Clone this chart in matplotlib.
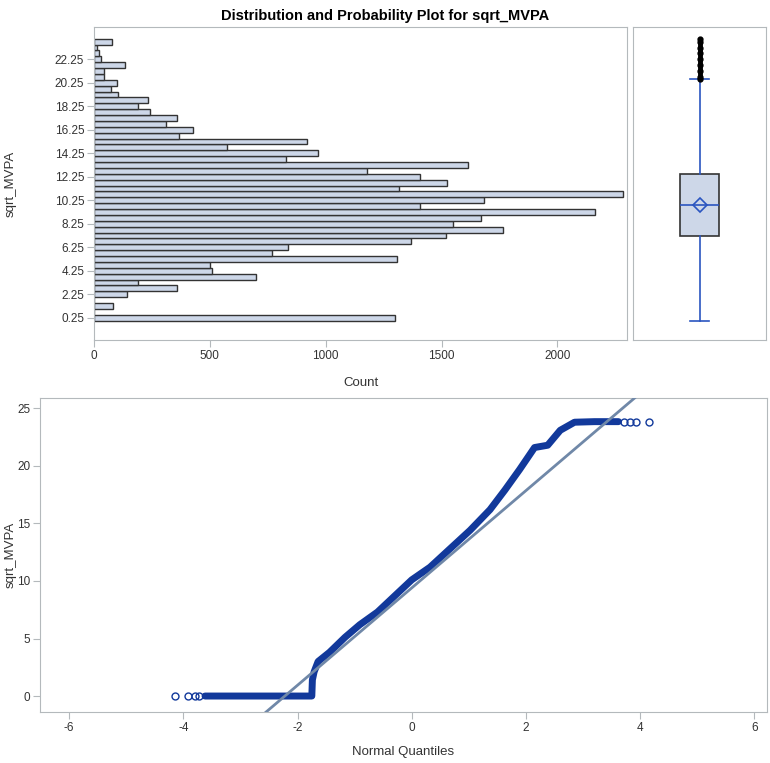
import matplotlib.pyplot as plt

plt.rcParams['font.family'] = ['Liberation Sans', 'DejaVu Sans']
plt.rcParams['axes.unicode_minus'] = False

# histogram bins (midpoints) and counts
bin_mid = [0.25 + 0.5 * k for k in range(48)]
counts = [1297, 0, 81, 0, 141, 356, 189, 701, 507, 500,
          1308, 770, 835, 1366, 1517, 1765, 1550, 1668, 2163, 1405,
          1684, 2281, 1314, 1523, 1405, 1177, 1613, 830, 966, 574,
          921, 367, 426, 312, 356, 242, 189, 232, 102, 72,
          98, 42, 42, 135, 29, 23, 12, 76]
ytick_vals = [0.25 + 2 * i for i in range(12)]

# box plot stats
box_q1, box_med, box_q3 = 7.17, 9.83, 12.49
box_mean = 9.83
whisk_lo, whisk_hi = 0.0, 20.57
outliers = [20.6, 20.75, 21.25, 21.75, 22.25, 22.75, 23.25, 23.75, 23.95]

# normal Q-Q curve
qq_x = [-3.62, -3.2, -2.8, -2.4, -2.0, -1.75, -1.74, -1.71, -1.64, -1.44, -1.17,
        -0.91, -0.6, -0.3, 0.0, 0.32, 0.67, 1.02, 1.37, 1.63, 1.89, 2.15,
        2.38, 2.6, 2.85, 3.2, 3.62]
qq_y = [0.0, 0.0, 0.0, 0.0, 0.0, 0.0, 1.4, 2.1, 3.0, 3.8, 5.1,
        6.2, 7.3, 8.7, 10.1, 11.2, 12.8, 14.4, 16.2, 17.9, 19.7, 21.6,
        21.8, 23.1, 23.8, 23.85, 23.85]
tail_x = [-4.15, -3.92, -3.8, -3.72, 3.72, 3.82, 3.92, 4.15]
tail_y = [0.0, 0.0, 0.0, 0.0, 23.85, 23.85, 23.85, 23.85]
ref_mu, ref_sigma = 9.4, 4.23

bar_fill = '#cdd7e8'
frame = '#b4b9bc'
blue = '#2a55c0'
navy = '#12399b'
txt = '#333333'

fig = plt.figure(figsize=(7.7, 7.63), dpi=100)
fig.text(0.5, 0.988, 'Distribution and Probability Plot for sqrt_MVPA',
         ha='center', va='top', fontsize=10.5, fontweight='bold')

def style(ax):
    for s in ax.spines.values():
        s.set_color(frame)
    ax.tick_params(colors=frame, labelcolor=txt, labelsize=8.5, length=5, pad=2)

# histogram
ax1 = fig.add_axes([0.1221, 0.5544, 0.6922, 0.4102])
ax1.barh(bin_mid, counts, height=0.5, color=bar_fill, edgecolor='#333333', linewidth=1)
ax1.set_xlim(0, 2300)
ax1.set_ylim(-1.65, 25)
ax1.set_yticks(ytick_vals)
ax1.set_yticklabels([f'{v:.2f}' for v in ytick_vals])
ax1.set_xticks([0, 500, 1000, 1500, 2000])
ax1.set_xlabel('Count', fontsize=9.5, color=txt, labelpad=11)
ax1.set_ylabel('sqrt_MVPA', fontsize=9.5, color=txt)
ax1.yaxis.set_label_coords(-0.1445, 0.5)
style(ax1)

# box plot
ax2 = fig.add_axes([0.8221, 0.5544, 0.1727, 0.4102], sharey=ax1)
ax2.plot([0.5] * len(outliers), outliers, color='black', lw=3.5,
         solid_capstyle='round', zorder=1)
stats = [dict(med=box_med, q1=box_q1, q3=box_q3, whislo=whisk_lo, whishi=whisk_hi,
              mean=box_mean, fliers=outliers)]
ax2.bxp(stats, positions=[0.5], widths=0.29, capwidths=0.14, showmeans=True,
        patch_artist=True,
        boxprops=dict(facecolor=bar_fill, edgecolor='#333333', linewidth=1.2),
        medianprops=dict(color=blue, linewidth=1.2),
        whiskerprops=dict(color=blue, linewidth=1.2),
        capprops=dict(color=blue, linewidth=1.2),
        meanprops=dict(marker='D', markersize=7, markerfacecolor='none',
                       markeredgecolor=blue, markeredgewidth=1.2),
        flierprops=dict(marker='o', markersize=3.5, markerfacecolor='black',
                        markeredgecolor='black'))
ax2.set_xlim(0, 1)
ax2.tick_params(left=False, bottom=False, labelleft=False, labelbottom=False)
for s in ax2.spines.values():
    s.set_color(frame)

# Q-Q plot
ax3 = fig.add_axes([0.0519, 0.0668, 0.9442, 0.4115])
ax3.plot(qq_x, qq_y, color=navy, lw=5, solid_capstyle='round', zorder=2)
ax3.plot(tail_x, tail_y, 'o', ms=5, mfc='none', mec=navy, mew=1, zorder=2)
ax3.axline((0, ref_mu), slope=ref_sigma, color='#7088a8', lw=2, zorder=3)
ax3.set_xlim(-6.51, 6.22)
ax3.set_ylim(-1.39, 25.9)
ax3.set_xticks([-6, -4, -2, 0, 2, 4, 6])
ax3.set_yticks([0, 5, 10, 15, 20, 25])
ax3.set_xlabel('Normal Quantiles', fontsize=9.5, color=txt, labelpad=9)
ax3.set_ylabel('sqrt_MVPA', fontsize=9.5, color=txt)
ax3.yaxis.set_label_coords(-0.0316, 0.5)
style(ax3)

fig.savefig('out.png', dpi=100)
